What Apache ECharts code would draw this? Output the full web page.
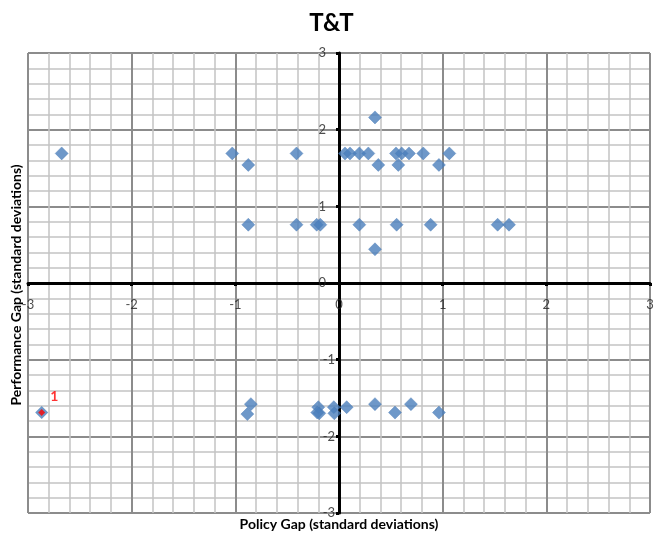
<!DOCTYPE html>
<html><head><meta charset="utf-8">
<script src="https://cdn.jsdelivr.net/npm/echarts@6/dist/echarts.min.js"></script>
<style>html,body{margin:0;padding:0;background:#fff}#c{width:663px;height:538px}</style>
</head><body><div id="c"></div>
<script>
// Main scatter: Policy Gap (x) vs Performance Gap (y)
const policyGap = [
  -2.675, -1.03, -0.875, -0.875, -0.41, -0.41, -0.215, -0.18,
  0.058, 0.106, 0.196, 0.283, 0.347, 0.379, 0.196, 0.347,
  0.55, 0.605, 0.675, 0.572, 0.556, 0.813, 0.964, 1.064, 0.884, 1.53, 1.64,
  -0.85, -0.884, -0.20, -0.19, -0.21, -0.05, -0.045, 0.074,
  0.347, 0.54, 0.694, 0.964
];
const performanceGap = [
  1.69, 1.69, 1.54, 0.76, 1.69, 0.76, 0.76, 0.76,
  1.69, 1.69, 1.69, 1.69, 2.16, 1.54, 0.76, 0.44,
  1.69, 1.69, 1.69, 1.54, 0.76, 1.69, 1.54, 1.69, 0.76, 0.76, 0.76,
  -1.58, -1.71, -1.62, -1.70, -1.69, -1.62, -1.70, -1.62,
  -1.58, -1.69, -1.58, -1.69
];
// Highlighted point
const highlightX = [-2.868];
const highlightY = [-1.69];
const highlightLabels = ['1'];
// Tick labels
const xTickLabels = [-3, -2, -1, 0, 1, 2, 3];
const yTickLabels = [-3, -2, -1, 0, 1, 2, 3];
const axisMin = -3, axisMax = 3, axisStep = 1;

const FONT = 'Lato, "Open Sans", sans-serif';
const mainData = policyGap.map((x, i) => [x, performanceGap[i]]);
const hiData = highlightX.map((x, i) => [x, highlightY[i], highlightLabels[i]]);
const xLabelData = xTickLabels.map(v => [v, 0, String(v)]);
const yLabelData = yTickLabels.map(v => ({
  value: [0, v, String(v)],
  label: { distance: v < 0 ? 4 : 13 }
}));

function axisCfg() {
  return {
    type: 'value', min: axisMin, max: axisMax, interval: axisStep,
    axisLine: { onZero: true, lineStyle: { color: '#000', width: 3 } },
    axisTick: { show: true, length: 3, lineStyle: { color: '#000', width: 3 } },
    axisLabel: { show: false },
    splitLine: { show: true, lineStyle: { color: '#8c8c8c', width: 2 } },
    minorTick: { show: false, splitNumber: 5 },
    minorSplitLine: { show: true, lineStyle: { color: '#c4c4c4', width: 1.5 } }
  };
}
const tickLabelStyle = { color: '#222', fontSize: 13, fontFamily: FONT };

const chart = echarts.init(document.getElementById('c'), null, { renderer: 'canvas' });
chart.setOption({
  animation: false,
  backgroundColor: '#fff',
  title: {
    text: 'T&T', left: 'center', top: 6,
    textStyle: { fontFamily: FONT, fontWeight: 'bold', fontSize: 24, color: '#000' }
  },
  grid: { left: 28, right: 13, top: 53, bottom: 25, containLabel: false },
  xAxis: axisCfg(),
  yAxis: axisCfg(),
  graphic: [
    { type: 'text', x: 339, y: 524,
      style: { text: 'Policy Gap (standard deviations)', fontFamily: FONT, fontWeight: 'bold', fontSize: 14, fill: '#000',
               align: 'center', verticalAlign: 'middle' } },
    { type: 'text', x: 16, y: 285, rotation: Math.PI / 2,
      style: { text: 'Performance Gap (standard deviations)', fontFamily: FONT, fontWeight: 'bold', fontSize: 14, fill: '#000',
               align: 'center', verticalAlign: 'middle' } }
  ],
  series: [
    {
      type: 'scatter', data: xLabelData, symbolSize: 0, silent: true, z: 1,
      label: { show: true, position: 'bottom', distance: 15, formatter: p => p.data[2], ...tickLabelStyle }
    },
    {
      type: 'scatter', data: yLabelData, symbolSize: 0, silent: true, z: 1,
      label: { show: true, position: 'left', distance: 13, formatter: p => p.value[2], ...tickLabelStyle }
    },
    {
      type: 'scatter', data: mainData, symbol: 'diamond', symbolSize: 13,
      itemStyle: { color: '#4A7EBB', borderColor: '#4577b3', borderWidth: 0.5 }, z: 3
    },
    {
      type: 'scatter', data: hiData, symbol: 'diamond', symbolSize: 13,
      itemStyle: { color: '#4A7EBB' }, z: 4
    },
    {
      type: 'scatter', data: hiData, symbol: 'diamond', symbolSize: 7,
      itemStyle: { color: '#ff0000' }, z: 5,
      label: { show: true, formatter: p => p.data[2], color: '#ff0000', fontWeight: 'bold',
               fontFamily: FONT, fontSize: 14, position: 'right', offset: [0, -16] }
    }
  ]
});
</script></body></html>
